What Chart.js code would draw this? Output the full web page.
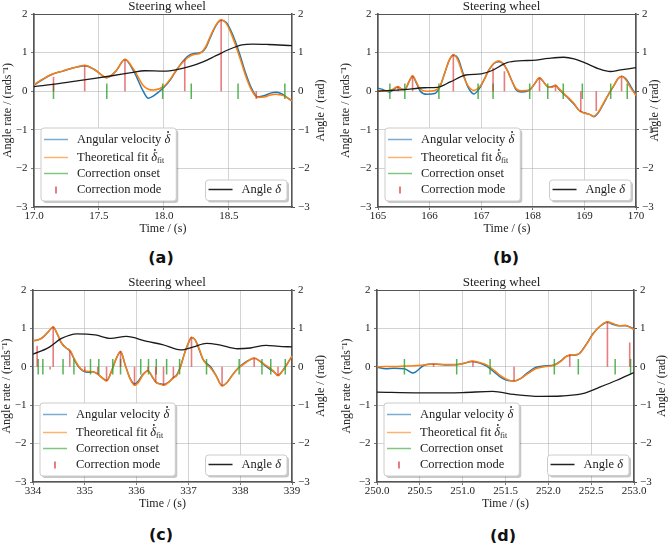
<!DOCTYPE html>
<html lang="en">
<head>
<meta charset="UTF-8" />
<title>Steering wheel corrections</title>
<script src="https://cdn.jsdelivr.net/npm/chart.js@4"></script>
<style>
  * { margin: 0; padding: 0; box-sizing: border-box; }
  body { width: 669px; height: 543px; background: #fff; position: relative; overflow: hidden; }
  .panel { position: absolute; }
  .caption {
    position: absolute; width: 60px; margin-left: -30px; margin-top: -10px;
    text-align: center; line-height: 20px; color: #111;
    font: bold 16px "DejaVu Sans", sans-serif;
  }
</style>
</head>
<body>
<div class="panel" style="left:0;top:0;width:334px;height:245px"><canvas id="chartA"></canvas></div>
<div class="panel" style="left:334px;top:0;width:335px;height:245px"><canvas id="chartB"></canvas></div>
<div class="panel" style="left:0;top:276px;width:334px;height:244px"><canvas id="chartC"></canvas></div>
<div class="panel" style="left:334px;top:276px;width:335px;height:244px"><canvas id="chartD"></canvas></div>
<div class="caption" style="left:161px;top:258px">(a)</div>
<div class="caption" style="left:506px;top:258px">(b)</div>
<div class="caption" style="left:161px;top:535px">(c)</div>
<div class="caption" style="left:503px;top:536px">(d)</div>

<script>
// ---- (a) ----
const aTime = [17.00, 17.07, 17.14, 17.22, 17.30, 17.39, 17.47, 17.56, 17.63, 17.70, 17.77, 17.84, 17.88, 17.92, 18.00, 18.05, 18.10, 18.18, 18.23, 18.27, 18.32, 18.36, 18.40, 18.44, 18.48, 18.51, 18.55, 18.59, 18.63, 18.67, 18.72, 18.77, 18.82, 18.86, 18.90, 18.93, 18.985];
const aFit = [0.17, 0.32, 0.44, 0.52, 0.60, 0.67, 0.55, 0.35, 0.52, 0.83, 0.55, 0.15, 0.05, 0.03, 0.13, 0.32, 0.57, 0.86, 0.95, 0.97, 1.15, 1.45, 1.72, 1.85, 1.75, 1.55, 1.20, 0.80, 0.38, 0.05, -0.16, -0.15, -0.10, -0.08, -0.10, -0.13, -0.25];
const aRate = [0.16, 0.31, 0.44, 0.52, 0.60, 0.66, 0.55, 0.35, 0.52, 0.82, 0.50, 0.00, -0.18, -0.12, 0.10, 0.30, 0.57, 0.90, 0.98, 0.99, 1.12, 1.42, 1.70, 1.84, 1.78, 1.60, 1.28, 0.88, 0.45, 0.10, -0.15, -0.12, -0.05, -0.03, -0.06, -0.12, -0.26];
const aAngleTime = [17.0, 17.2, 17.4, 17.6, 17.75, 17.85, 18.0, 18.1, 18.2, 18.3, 18.4, 18.5, 18.6, 18.68, 18.8, 18.985];
const aAngle = [0.12, 0.20, 0.30, 0.40, 0.48, 0.53, 0.52, 0.56, 0.64, 0.76, 0.92, 1.08, 1.20, 1.22, 1.21, 1.18];
const aOnset = [17.15, 17.56, 17.99, 18.21, 18.57, 18.93];
const aModeTime = [17.15, 17.39, 17.70, 18.16, 18.44, 18.71];
const aModeValue = [0.37, 0.67, 0.83, 0.83, 1.85, -0.20];
const aTicks = [17.0, 17.5, 18.0, 18.5];

// ---- (b) ----
const bTime = [165.00, 165.10, 165.22, 165.30, 165.38, 165.46, 165.52, 165.60, 165.67, 165.74, 165.82, 165.95, 166.10, 166.20, 166.30, 166.38, 166.46, 166.55, 166.64, 166.74, 166.86, 166.96, 167.05, 167.15, 167.25, 167.34, 167.42, 167.50, 167.60, 167.68, 167.78, 167.93, 168.03, 168.13, 168.22, 168.30, 168.38, 168.44, 168.50, 168.60, 168.70, 168.80, 168.90, 169.00, 169.10, 169.18, 169.28, 169.38, 169.48, 169.57, 169.65, 169.72, 169.80, 169.90, 170.00];
const bFit = [0.00, 0.00, 0.01, 0.06, 0.12, 0.06, 0.05, 0.25, 0.40, 0.25, 0.05, 0.00, 0.02, 0.12, 0.50, 0.80, 0.95, 0.80, 0.45, 0.15, 0.02, 0.10, 0.28, 0.55, 0.73, 0.79, 0.72, 0.55, 0.25, 0.06, 0.01, 0.03, 0.18, 0.35, 0.22, 0.10, 0.10, 0.16, 0.08, -0.06, -0.18, -0.32, -0.50, -0.57, -0.60, -0.65, -0.52, -0.28, -0.06, 0.15, 0.33, 0.39, 0.30, 0.08, -0.11];
const bRate = [0.08, 0.04, -0.02, 0.04, 0.11, 0.05, 0.04, 0.24, 0.39, 0.22, 0.00, -0.08, -0.06, 0.12, 0.50, 0.80, 0.93, 0.85, 0.50, 0.12, -0.07, 0.06, 0.28, 0.55, 0.72, 0.76, 0.72, 0.56, 0.25, 0.03, -0.02, 0.02, 0.18, 0.34, 0.22, 0.10, 0.12, 0.15, 0.06, -0.07, -0.20, -0.34, -0.50, -0.56, -0.60, -0.66, -0.54, -0.30, -0.05, 0.14, 0.32, 0.39, 0.33, 0.12, -0.10];
const bAngleTime = [165.0, 165.5, 165.9, 166.15, 166.4, 166.7, 167.0, 167.2, 167.5, 167.8, 168.0, 168.3, 168.6, 168.8, 169.0, 169.3, 169.5, 169.7, 170.0];
const bAngle = [0.00, 0.04, 0.09, 0.10, 0.24, 0.42, 0.45, 0.53, 0.74, 0.79, 0.80, 0.85, 0.88, 0.84, 0.74, 0.57, 0.51, 0.55, 0.61];
const bOnset = [165.23, 165.52, 166.18, 166.94, 167.23, 167.94, 168.29, 168.59, 168.96, 169.51, 169.83];
const bModeTime = [165.39, 165.67, 166.46, 167.23, 167.45, 168.13, 168.44, 168.93, 169.23, 169.72];
const bModeValue = [0.12, 0.40, 0.95, 0.61, 0.52, 0.35, 0.15, -0.54, -0.51, 0.39];
const bTicks = [165, 166, 167, 168, 169, 170];

// ---- (c) ----
const cTime = [334.00, 334.10, 334.20, 334.30, 334.39, 334.47, 334.55, 334.64, 334.72, 334.80, 334.88, 334.97, 335.08, 335.16, 335.25, 335.33, 335.42, 335.52, 335.60, 335.69, 335.78, 335.87, 335.96, 336.04, 336.12, 336.22, 336.30, 336.37, 336.45, 336.53, 336.62, 336.70, 336.78, 336.85, 336.92, 337.00, 337.06, 337.13, 337.20, 337.28, 337.36, 337.44, 337.54, 337.65, 337.75, 337.85, 337.95, 338.05, 338.15, 338.27, 338.38, 338.48, 338.57, 338.65, 338.73, 338.82, 338.90, 339.00];
const cFit = [0.68, 0.70, 0.78, 0.92, 1.04, 0.85, 0.62, 0.49, 0.42, 0.20, 0.02, -0.10, -0.12, -0.13, -0.19, -0.28, -0.37, -0.10, 0.20, 0.40, 0.05, -0.30, -0.48, -0.40, -0.22, -0.10, -0.25, -0.40, -0.45, -0.48, -0.40, -0.30, -0.22, 0.00, 0.32, 0.62, 0.77, 0.70, 0.50, 0.20, 0.05, -0.05, -0.25, -0.50, -0.40, -0.22, -0.05, 0.05, 0.15, 0.23, 0.15, 0.05, -0.03, -0.12, -0.23, -0.10, 0.06, 0.28];
const cRate = [0.68, 0.70, 0.78, 0.92, 1.03, 0.85, 0.62, 0.49, 0.40, 0.18, 0.00, -0.11, -0.14, -0.13, -0.19, -0.28, -0.36, -0.10, 0.19, 0.39, 0.05, -0.29, -0.45, -0.36, -0.20, -0.10, -0.26, -0.40, -0.44, -0.46, -0.40, -0.29, -0.20, 0.02, 0.33, 0.62, 0.76, 0.70, 0.48, 0.20, 0.08, -0.02, -0.24, -0.49, -0.40, -0.21, -0.05, 0.07, 0.16, 0.22, 0.15, 0.03, -0.06, -0.13, -0.22, -0.10, 0.06, 0.28];
const cAngleTime = [334.0, 334.3, 334.55, 334.85, 335.2, 335.5, 335.8, 336.2, 336.5, 336.85, 337.1, 337.35, 337.6, 337.95, 338.2, 338.5, 338.75, 339.0];
const cAngle = [0.33, 0.50, 0.74, 0.86, 0.83, 0.74, 0.79, 0.66, 0.58, 0.44, 0.52, 0.61, 0.57, 0.47, 0.49, 0.56, 0.53, 0.52];
const cOnset = [334.10, 334.19, 334.58, 334.79, 335.11, 335.27, 335.54, 335.69, 336.08, 336.23, 336.38, 336.58, 336.83, 337.35, 337.98, 338.42, 338.59, 338.87];
const cModeTime = [334.08, 334.33, 334.39, 334.71, 335.00, 335.25, 335.42, 335.69, 335.96, 336.22, 336.37, 336.52, 336.71, 337.06, 337.65, 338.27, 338.73];
const cModeValue = [0.55, -0.07, 1.04, 0.42, -0.12, -0.19, -0.37, 0.42, -0.48, -0.10, -0.40, -0.48, -0.30, 0.77, -0.50, 0.23, -0.23];
const cTicks = [334, 335, 336, 337, 338, 339];

// ---- (d) ----
const dTime = [250.00, 250.10, 250.20, 250.32, 250.42, 250.55, 250.66, 250.80, 250.94, 251.03, 251.11, 251.20, 251.28, 251.37, 251.45, 251.53, 251.60, 251.68, 251.76, 251.85, 251.95, 252.07, 252.15, 252.22, 252.30, 252.36, 252.45, 252.52, 252.60, 252.69, 252.76, 252.83, 252.90, 252.96, 253.00];
const dFit = [0.00, 0.01, 0.01, 0.02, 0.03, 0.05, 0.07, 0.06, 0.06, 0.10, 0.15, 0.11, 0.05, -0.10, -0.24, -0.34, -0.37, -0.30, -0.18, -0.05, 0.00, 0.04, 0.15, 0.28, 0.31, 0.34, 0.60, 0.85, 1.05, 1.17, 1.12, 1.07, 1.08, 1.02, 0.97];
const dRate = [-0.01, -0.05, -0.04, -0.05, -0.16, 0.04, 0.07, 0.05, 0.06, 0.10, 0.14, 0.10, 0.02, -0.14, -0.28, -0.36, -0.37, -0.30, -0.15, -0.02, 0.02, 0.05, 0.16, 0.29, 0.30, 0.34, 0.61, 0.86, 1.05, 1.16, 1.10, 1.07, 1.07, 1.03, 0.98];
const dAngleTime = [250.0, 250.5, 251.0, 251.35, 251.6, 251.9, 252.15, 252.4, 252.6, 252.8, 253.0];
const dAngle = [-0.66, -0.68, -0.67, -0.64, -0.72, -0.77, -0.76, -0.70, -0.53, -0.35, -0.15];
const dOnset = [250.32, 250.93, 251.32, 252.07, 252.35, 252.78, 252.96];
const dModeTime = [250.66, 251.12, 251.60, 252.25, 252.69, 252.95];
const dModeValue = [0.07, 0.14, -0.37, 0.33, 1.17, 0.63];
const dTicks = [250.0, 250.5, 251.0, 251.5, 252.0, 252.5, 253.0];

const yTicks = [-3, -2, -1, 0, 1, 2];

const FONT = "'Liberation Serif', 'Times New Roman', serif";
const INK = '#222';
const AXIS = '#555';
const GRID = 'rgba(176,176,176,0.7)';

const pts = (xs, ys) => xs.map((x, i) => ({ x: x, y: ys[i] }));
const onsetLines = ts => ts.flatMap(t => [{ x: t, y: -0.2 }, { x: t, y: 0.2 }, { x: t, y: null }]);
const modeLines = (ts, vs) => ts.flatMap((t, i) => [{ x: t, y: 0 }, { x: t, y: vs[i] }, { x: t, y: null }]);
const minus = v => (v < 0 ? '\u2212' + Math.abs(v) : String(v));

// dot: true puts a time-derivative dot over the symbol
const rateLegend = [
    { color: 'rgba(31,119,180,0.6)', kind: 'line', parts: [{ t: 'Angular velocity ' }, { t: '\u03B4', it: true, dot: true }] },
    { color: 'rgba(255,127,14,0.6)', kind: 'line', parts: [{ t: 'Theoretical fit ' }, { t: '\u03B4', it: true, dot: true }, { t: 'fit', sub: true }] },
    { color: 'rgba(44,160,44,0.6)', kind: 'line', parts: [{ t: 'Correction onset' }] },
    { color: 'rgba(214,39,40,0.8)', kind: 'tick', parts: [{ t: 'Correction mode' }] },
];
const angleLegend = [{ color: '#222', kind: 'line', parts: [{ t: 'Angle ' }, { t: '\u03B4', it: true }] }];

function partFont(p) {
    return (p.it ? 'italic ' : '') + (p.sub ? '8px ' : '12.5px ') + FONT;
}
function richWidth(ctx, parts) {
    let w = 0;
    parts.forEach(p => { ctx.font = partFont(p); w += ctx.measureText(p.t).width; });
    return w;
}
function drawRich(ctx, parts, x, y) {
    parts.forEach(p => {
        ctx.font = partFont(p);
        ctx.fillText(p.t, x, y + (p.sub ? 3.5 : 0));
        const w = ctx.measureText(p.t).width;
        if (p.dot) {
            ctx.beginPath();
            ctx.arc(x + w * 0.62, y - 7.5, 0.9, 0, Math.PI * 2);
            ctx.fill();
        }
        x += w;
    });
}
function roundRect(ctx, x, y, w, h, r) {
    ctx.beginPath();
    ctx.moveTo(x + r, y);
    ctx.arcTo(x + w, y, x + w, y + h, r);
    ctx.arcTo(x + w, y + h, x, y + h, r);
    ctx.arcTo(x, y + h, x, y, r);
    ctx.arcTo(x, y, x + w, y, r);
    ctx.closePath();
}
function drawLegend(ctx, entries, x, y, w, rows) {
    const h = rows[rows.length - 1] + 11;
    ctx.fillStyle = 'rgba(0,0,0,0.22)';
    roundRect(ctx, x + 2, y + 2, w, h, 3);
    ctx.fill();
    ctx.fillStyle = '#fff';
    roundRect(ctx, x, y, w, h, 3);
    ctx.fill();
    ctx.strokeStyle = '#cccccc';
    ctx.lineWidth = 1;
    ctx.stroke();
    entries.forEach((e, i) => {
        const cy = y + rows[i];
        ctx.strokeStyle = e.color;
        ctx.lineWidth = 1.5;
        ctx.beginPath();
        if (e.kind === 'line') {
            ctx.moveTo(x + 3, cy);
            ctx.lineTo(x + 27, cy);
        } else {
            ctx.moveTo(x + 15, cy - 3.5);
            ctx.lineTo(x + 15, cy + 3.5);
        }
        ctx.stroke();
        ctx.fillStyle = INK;
        ctx.textBaseline = 'middle';
        ctx.textAlign = 'left';
        drawRich(ctx, e.parts, x + 36, cy);
    });
    return h;
}

const deco = {
    id: 'deco',
    afterDraw(chart, args, opts) {
        const { ctx, chartArea: a } = chart;
        ctx.save();
        // frame: thin top edge, heavier spines elsewhere like the axes
        ctx.strokeStyle = AXIS;
        ctx.lineWidth = 1;
        ctx.beginPath();
        ctx.moveTo(a.left, a.top + 0.5);
        ctx.lineTo(a.right, a.top + 0.5);
        ctx.stroke();

        // right axis title, read bottom to top
        ctx.save();
        ctx.translate(opts.y2TitleX, (a.top + a.bottom) / 2);
        ctx.rotate(-Math.PI / 2);
        ctx.font = '12px ' + FONT;
        ctx.fillStyle = INK;
        ctx.textAlign = 'center';
        ctx.textBaseline = 'middle';
        ctx.fillText('Angle / (rad)', 0, 0);
        ctx.restore();

        // legends
        const tw = Math.max(...rateLegend.map(e => richWidth(ctx, e.parts)));
        drawLegend(ctx, rateLegend, a.left + 7, a.bottom - 7 - 72, tw + 42, [11.5, 29.5, 45.5, 62]);
        const aw = richWidth(ctx, angleLegend[0].parts) + 42;
        drawLegend(ctx, angleLegend, a.right - 5 - aw, a.bottom - 7 - 20, aw, [9.5]);
        ctx.restore();
    }
};

function makePanel(id, p) {
    const tickFont = { family: FONT, size: 11 };
    const labelFont = { family: FONT, size: 12, lineHeight: 1.2 };
    return new Chart(document.getElementById(id), {
        type: 'line',
        data: {
            datasets: [
                { label: 'Angle', data: pts(p.angleTime, p.angle), yAxisID: 'y2', borderColor: '#1a1a1a', borderWidth: 1.3, cubicInterpolationMode: 'monotone', order: 0 },
                { label: 'Correction mode', data: modeLines(p.modeTime, p.modeValue), borderColor: 'rgba(214,39,40,0.6)', borderWidth: 1.6, order: 1 },
                { label: 'Correction onset', data: onsetLines(p.onset), borderColor: 'rgba(44,160,44,0.8)', borderWidth: 1.5, order: 2 },
                { label: 'Theoretical fit', data: pts(p.time, p.fit), borderColor: '#ff7f0e', borderWidth: 1.5, cubicInterpolationMode: 'monotone', order: 3 },
                { label: 'Angular velocity', data: pts(p.time, p.rate), borderColor: '#1f77b4', borderWidth: 1.5, cubicInterpolationMode: 'monotone', order: 4 },
            ],
        },
        options: {
            responsive: true,
            maintainAspectRatio: false,
            animation: false,
            events: [],
            elements: { point: { radius: 0 } },
            layout: { padding: 0 },
            plugins: {
                legend: { display: false },
                tooltip: { enabled: false },
                title: {
                    display: true,
                    text: 'Steering wheel',
                    color: INK,
                    font: { family: FONT, size: 13, weight: 'normal', lineHeight: 14 / 13 },
                    padding: { top: 0, bottom: 0 },
                },
                deco: { y2TitleX: p.y2TitleX },
            },
            scales: {
                x: {
                    type: 'linear',
                    min: p.xMin,
                    max: p.xMax,
                    afterFit: s => { s.height = 38; },
                    afterBuildTicks: s => { s.ticks = p.xTicks.map(v => ({ value: v })); },
                    ticks: { callback: v => v.toFixed(p.dec), font: tickFont, color: INK, padding: 0, maxRotation: 0, autoSkip: false },
                    grid: { color: GRID, lineWidth: 0.8, tickLength: 3, tickColor: AXIS },
                    border: { color: AXIS, width: 1.6 },
                    title: { display: true, text: 'Time / (s)', font: labelFont, color: INK, padding: { top: 0, bottom: 9 } },
                },
                y: {
                    position: 'left',
                    min: -3,
                    max: 2,
                    afterFit: s => { s.width = p.yW; },
                    afterBuildTicks: s => { s.ticks = yTicks.map(v => ({ value: v })); },
                    ticks: { callback: minus, font: tickFont, color: INK, padding: 3.5 },
                    grid: { color: GRID, lineWidth: 0.8, tickLength: 3, tickColor: AXIS },
                    border: { color: AXIS, width: 1.6 },
                    title: { display: true, text: 'Angle rate / (rads\u207B\u00B9)', font: labelFont, color: INK, padding: { top: p.yTitleX - 7.2, bottom: 0 } },
                },
                y2: {
                    position: 'right',
                    min: -3,
                    max: 2,
                    afterFit: s => { s.width = p.y2W; },
                    afterBuildTicks: s => { s.ticks = yTicks.map(v => ({ value: v })); },
                    ticks: { callback: minus, font: tickFont, color: INK, padding: 3 },
                    grid: { drawOnChartArea: false, tickLength: 3, tickColor: AXIS },
                    border: { color: AXIS, width: 1.6 },
                },
            },
        },
        plugins: [deco],
    });
}

makePanel('chartA', {
    time: aTime, fit: aFit, rate: aRate, angleTime: aAngleTime, angle: aAngle,
    onset: aOnset, modeTime: aModeTime, modeValue: aModeValue, xTicks: aTicks,
    xMin: 17.0, xMax: 18.985, dec: 1, yW: 34, y2W: 42, yTitleX: 8, y2TitleX: 321,
});
makePanel('chartB', {
    time: bTime, fit: bFit, rate: bRate, angleTime: bAngleTime, angle: bAngle,
    onset: bOnset, modeTime: bModeTime, modeValue: bModeValue, xTicks: bTicks,
    xMin: 165, xMax: 170, dec: 0, yW: 44, y2W: 33, yTitleX: 12, y2TitleX: 321,
});
makePanel('chartC', {
    time: cTime, fit: cFit, rate: cRate, angleTime: cAngleTime, angle: cAngle,
    onset: cOnset, modeTime: cModeTime, modeValue: cModeValue, xTicks: cTicks,
    xMin: 334, xMax: 339, dec: 0, yW: 33, y2W: 42, yTitleX: 7, y2TitleX: 321,
});
makePanel('chartD', {
    time: dTime, fit: dFit, rate: dRate, angleTime: dAngleTime, angle: dAngle,
    onset: dOnset, modeTime: dModeTime, modeValue: dModeValue, xTicks: dTicks,
    xMin: 250, xMax: 253, dec: 1, yW: 43, y2W: 35, yTitleX: 13, y2TitleX: 328,
});
</script>
</body>
</html>
